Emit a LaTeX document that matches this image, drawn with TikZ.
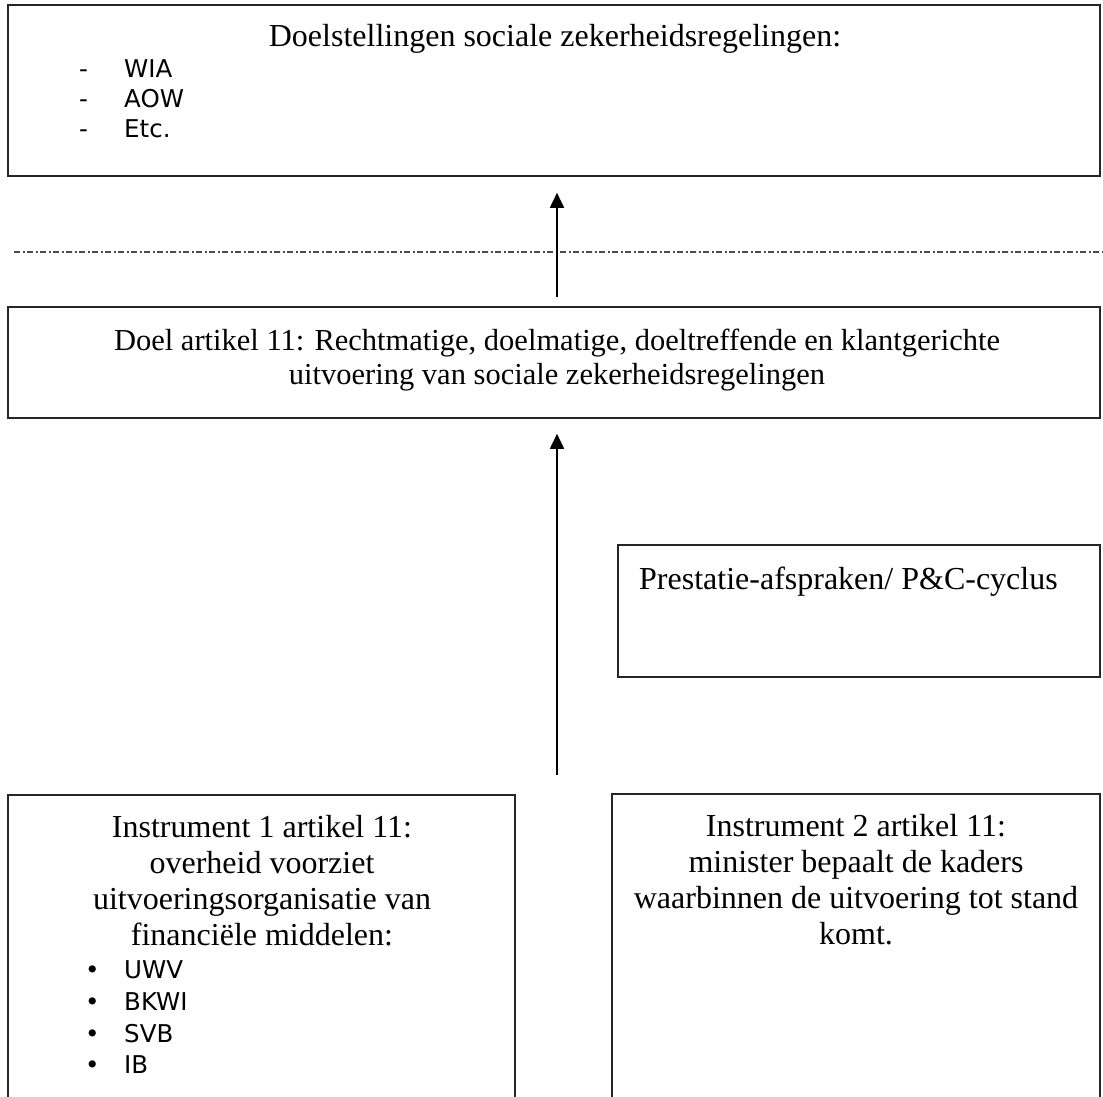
\documentclass[tikz,border=0pt]{standalone}
\usepackage{fontspec}
\setmainfont{Liberation Serif}
\newfontfamily\listfont{DejaVu Sans}
\usetikzlibrary{arrows.meta}
\begin{document}
\begin{tikzpicture}[x=1pt,y=-1pt,
  box/.style={draw=black!85, line width=1.6pt, inner sep=0pt},
  serif/.style={font=\fontsize{32}{36}\selectfont, inner sep=0pt},
  item/.style={font=\listfont\fontsize{24.5}{30}\selectfont, inner sep=0pt, anchor=base west},
  arr/.style={line width=1.8pt, -{Triangle[length=15pt,width=14pt]}},
  sepline/.style={line width=1.5pt, black!70, dash pattern=on 6pt off 2.5pt on 2pt off 2.5pt}]
\clip (0,0) rectangle (1103,1097);
\fill[white] (0,0) rectangle (1103,1097);

% boxes
\node[box, minimum width=1092pt, minimum height=171pt] (goals) at (554,90.5) {};
\node[box, minimum width=1092pt, minimum height=111pt] (doel) at (554,362.5) {};
\node[box, minimum width=482pt, minimum height=132pt] (prest) at (859,611) {};
\node[box, minimum width=507pt, minimum height=320pt] (instr1) at (261.5,955) {};
\node[box, minimum width=488pt, minimum height=320pt] (instr2) at (856,954) {};

% top box text
\node[serif, anchor=base] (goalstitle) at (555,47) {Doelstellingen sociale zekerheidsregelingen:};
\node[item] (d1) at (79,78) {-};
\node[item] (wia) at (124,78) {WIA};
\node[item] (d2) at (79,108) {-};
\node[item] (aow) at (124,108) {AOW};
\node[item] (d3) at (79,138) {-};
\node[item] (etc) at (124,138) {Etc.};

% separator
\coordinate (sepL) at (14,252);
\coordinate (sepR) at (1103,252);
\draw[sepline] (sepL) -- (sepR);

% middle box text (base anchor = last line)
\node[serif, anchor=base, align=center, font=\fontsize{30.5}{34}\selectfont] (doeltext) at (557,384)
  {Doel artikel 11: Rechtmatige, doelmatige, doeltreffende en klantgerichte\\uitvoering van sociale zekerheidsregelingen};

% prestatie text
\node[serif, anchor=base west] (prestext) at (639,589) {Prestatie-afspraken/ P\&C-cyclus};

% instrument 1
\node[serif, anchor=base, align=center] (i1text) at (262,945)
  {Instrument 1 artikel 11:\\overheid voorziet\\uitvoeringsorganisatie van\\financiële middelen:};
\node[item] (b1) at (85,978) {•};
\node[item] (uwv) at (124,978) {UWV};
\node[item] (b2) at (85,1010) {•};
\node[item] (bkwi) at (124,1010) {BKWI};
\node[item] (b3) at (85,1042) {•};
\node[item] (svb) at (124,1042) {SVB};
\node[item] (b4) at (85,1073) {•};
\node[item] (ib) at (124,1073) {IB};

% instrument 2
\node[serif, anchor=base, align=center] (i2text) at (856,944)
  {Instrument 2 artikel 11:\\minister bepaalt de kaders\\waarbinnen de uitvoering tot stand\\komt.};

% arrows
\draw[arr, shorten <=9pt, shorten >=16pt] ([xshift=3pt]doel.north) -- ([xshift=3pt]goals.south);
\coordinate (src) at (557,775);
\draw[arr, shorten >=15pt] (src) -- (src |- doel.south);
\end{tikzpicture}
\end{document}
